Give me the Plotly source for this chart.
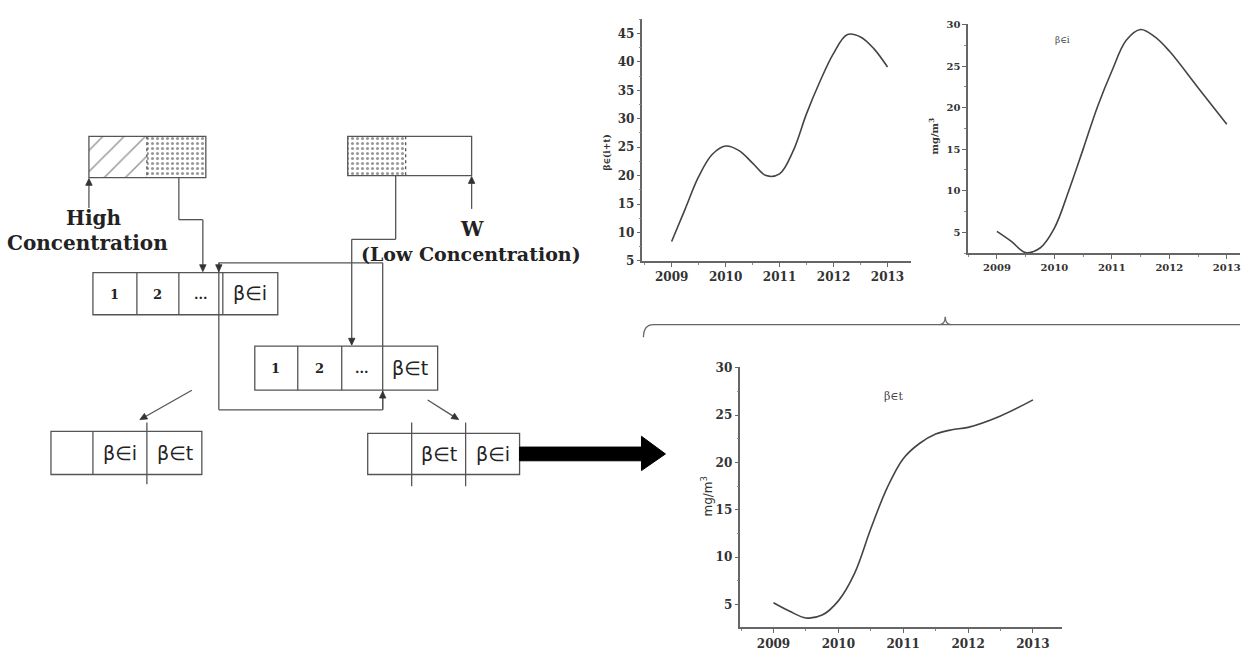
import math
import plotly.graph_objects as go

W, H = 1241, 655

# ---------------- chart data ----------------
years_it = [2009, 2009.25, 2009.5, 2009.75, 2010, 2010.25, 2010.5, 2010.75, 2011, 2011.25,
            2011.5, 2011.75, 2012, 2012.25, 2012.5, 2012.75, 2013]
beta_it = [8.4, 14.1, 19.8, 23.7, 25.2, 24.4, 22.2, 20.0, 20.3, 24.3,
           30.9, 36.6, 41.5, 44.8, 44.4, 42.3, 39.1]

years_i = [2009, 2009.25, 2009.5, 2009.75, 2010, 2010.25, 2010.5, 2010.75, 2011, 2011.25,
           2011.5, 2011.75, 2012, 2012.5, 2013]
beta_i = [5.1, 3.9, 2.55, 3.1, 5.5, 10.0, 15.0, 20.1, 24.4, 28.1,
          29.4, 28.5, 26.8, 22.4, 18.0]

years_t = [2009, 2009.25, 2009.5, 2009.75, 2010, 2010.25, 2010.5, 2010.75, 2011, 2011.25,
           2011.5, 2011.75, 2012, 2012.5, 2013]
beta_t = [5.2, 4.3, 3.6, 3.9, 5.4, 8.3, 13.0, 17.3, 20.4, 22.0,
          23.0, 23.45, 23.7, 24.9, 26.6]

year_ticks = [2009, 2010, 2011, 2012, 2013]
year_labels = ["2009", "2010", "2011", "2012", "2013"]
ticks_it = [5, 10, 15, 20, 25, 30, 35, 40, 45]
ticks_mg = [5, 10, 15, 20, 25, 30]

# diagram labels
cells_top = ["1", "2", "..."]
label_i = "β∈i"
label_t = "β∈t"

LC = "#555555"
CC = "#444444"
TXT = "#222222"

fig = go.Figure()


def dom(p0, p1, total, flip=False):
    if flip:
        return [1 - p1 / total, 1 - p0 / total]
    return [p0 / total, p1 / total]


# ---------------- charts ----------------
for xs, ys, xa, ya in ((years_it, beta_it, "x", "y"), (years_i, beta_i, "x2", "y2"),
                       (years_t, beta_t, "x3", "y3")):
    fig.add_trace(go.Scatter(x=xs, y=ys, mode="lines",
                             line=dict(color=CC, width=1.6, shape="spline", smoothing=1),
                             xaxis=xa, yaxis=ya, showlegend=False, hoverinfo="skip"))

tickfont = dict(family="DejaVu Serif", size=11, color="#333333", weight="bold")


def xax(domain, rng, anchor, fs=11):
    return dict(domain=domain, range=rng, anchor=anchor, showline=True, linecolor="#666666",
                linewidth=1.5, ticks="outside", ticklen=4, tickcolor="#666666", tickwidth=1,
                tickvals=year_ticks, ticktext=year_labels, showgrid=False, zeroline=False,
                tickfont=dict(tickfont, size=fs), fixedrange=True, ticklabeloverflow="allow",
                minor=dict(ticks="outside", ticklen=2, dtick=0.5, tick0=2009, tickcolor="#888888"))


def yax(domain, rng, anchor, vals, fs=11):
    return dict(domain=domain, range=rng, anchor=anchor, showline=True, linecolor="#666666",
                linewidth=1.5, ticks="outside", ticklen=4, tickcolor="#666666", tickwidth=1,
                tickvals=vals, ticktext=[str(v) for v in vals], showgrid=False, zeroline=False,
                tickfont=dict(tickfont, size=fs), fixedrange=True, ticklabeloverflow="allow",
                minor=dict(ticks="outside", ticklen=2, dtick=2.5, tick0=0, tickcolor="#888888"))


layout_axes = dict(
    xaxis=xax(dom(643, 912, W), [2008.46, 2013.44], "y", 12),
    yaxis=yax(dom(13, 260, H, True), [5, 47.6], "x", ticks_it, 12),
    xaxis2=xax(dom(969, 1241, W), [2008.5, 2013.23], "y2", 10),
    yaxis2=yax(dom(18, 252, H, True), [2.5, 30.1], "x2", ticks_mg, 10),
    xaxis3=xax(dom(741, 1063, W), [2008.49, 2013.45], "y3", 12),
    yaxis3=yax(dom(368, 634, H, True), [2.6, 30.1], "x3", ticks_mg, 12),
    xaxis4=dict(domain=[0, 1], range=[0, W], visible=False, fixedrange=True, anchor="y4"),
    yaxis4=dict(domain=[0, 1], range=[H, 0], visible=False, fixedrange=True, anchor="x4"),
)

shapes = []
annos = []


def line(x0, y0, x1, y1, dash=None, color=LC, width=1.3):
    shapes.append(dict(type="line", xref="x4", yref="y4", x0=x0, y0=y0, x1=x1, y1=y1,
                       line=dict(color=color, width=width, dash=dash)))


def poly(points):
    for (a, b), (c, d) in zip(points[:-1], points[1:]):
        line(a, b, c, d)


def rect(x0, y0, x1, y1):
    shapes.append(dict(type="rect", xref="x4", yref="y4", x0=x0, y0=y0, x1=x1, y1=y1,
                       line=dict(color=LC, width=1.3), fillcolor="rgba(0,0,0,0)"))


def arrow(tx, ty, sx, sy, hl=7, hw=3.2):
    dx, dy = tx - sx, ty - sy
    n = math.hypot(dx, dy)
    ux, uy = dx / n, dy / n
    bx, by = tx - ux * hl, ty - uy * hl
    line(sx, sy, bx, by)
    px, py = -uy * hw, ux * hw
    shapes.append(dict(type="path", xref="x4", yref="y4",
                       path=f"M {tx:.1f} {ty:.1f} L {bx + px:.1f} {by + py:.1f} "
                            f"L {bx - px:.1f} {by - py:.1f} Z",
                       fillcolor="#333333", line=dict(color="#333333", width=0.8)))


def text(x, y, s, size=13, family="DejaVu Serif", bold=True, color=TXT, angle=0):
    annos.append(dict(x=x, y=y, xref="x4", yref="y4", text=(f"<b>{s}</b>" if bold else s),
                      showarrow=False, textangle=angle,
                      font=dict(family=family, size=size, color=color)))


def pattern_cell(x0, y0, x1, y1, shape, size, solidity):
    fig.add_trace(go.Scatter(x=[x0, x1, x1, x0, x0], y=[y0, y0, y1, y1, y0], mode="lines",
                             fill="toself", fillcolor="white", line=dict(width=0),
                             fillpattern=dict(shape=shape, size=size, solidity=solidity,
                                              fgcolor="#333333", bgcolor="white"),
                             xaxis="x4", yaxis="y4", showlegend=False, hoverinfo="skip"))


# ---------------- top boxes ----------------
pattern_cell(89, 133, 147, 175, "/", 15, 0.1)
pattern_cell(147, 133, 206, 175, ".", 5, 0.3)
rect(89, 133, 206, 175)
line(147, 133, 147, 175, dash="dot")

pattern_cell(348, 133, 406, 173, ".", 5, 0.3)
rect(348, 133, 472, 173)
line(406, 133, 406, 173, dash="dot")

arrow(89, 176, 89, 206)
arrow(472, 174, 472, 207)

text(94, 216, "High", size=20)
text(88, 242, "Concentration", size=20)
text(472, 228, "W", size=20)
text(471, 253, "(Low Concentration)", size=19)

# connectors
poly([(179, 175), (179, 218), (203, 218)])
arrow(203, 271, 203, 218)
poly([(396, 173), (396, 238), (352, 238)])
arrow(352, 346, 352, 238)

# loop
poly([(219, 262), (383, 262), (383, 412), (219, 412), (219, 262)])
arrow(219, 271, 219, 262)
arrow(383, 393, 383, 412)

# box B
rect(93, 272, 278, 315)
for xd in (137, 179, 223):
    line(xd, 272, xd, 315)
for cx, s in zip((115, 158, 201), cells_top):
    text(cx, 294, s, size=13)
text(250, 293, label_i, size=19, family="DejaVu Sans", bold=False)

# box C
rect(255, 347, 438, 392)
for xd in (298, 342):
    line(xd, 347, xd, 392)
for cx, s in zip((276, 320, 362), cells_top):
    text(cx, 370, s, size=13)
text(410, 369, label_t, size=19, family="DejaVu Sans", bold=False)

# diagonal arrows
arrow(140, 422, 192, 392)
arrow(459, 422, 428, 402)

# box E
rect(51, 434, 202, 478)
line(93, 434, 93, 478)
line(147, 425, 147, 488)
text(120, 456, label_i, size=19, family="DejaVu Sans", bold=False)
text(175, 456, label_t, size=19, family="DejaVu Sans", bold=False)

# box F
rect(368, 436, 520, 478)
line(412, 425, 412, 490)
line(466, 425, 466, 490)
text(439, 457, label_t, size=19, family="DejaVu Sans", bold=False)
text(493, 457, label_i, size=19, family="DejaVu Sans", bold=False)

# thick arrow
shapes.append(dict(type="path", xref="x4", yref="y4",
                   path="M 520 450 L 642 450 L 642 439 L 666 457 L 642 474 L 642 464 L 520 464 Z",
                   fillcolor="black", line=dict(color="black", width=1)))

# brace
shapes.append(dict(type="path", xref="x4", yref="y4",
                   path="M 644 338 Q 644 325 654 325 L 1241 325",
                   line=dict(color="#666666", width=1.3)))
shapes.append(dict(type="path", xref="x4", yref="y4",
                   path="M 940 325 Q 946 325 946 317 Q 946 325 952 325",
                   line=dict(color="#666666", width=1.3)))

# chart labels
text(608, 150, "β∈(i+t)", size=9, family="DejaVu Serif", bold=True, color="#333333", angle=-90)
text(934, 133, "mg/m<sup>3</sup>", size=10, family="DejaVu Serif", bold=True, color="#333333", angle=-90)
text(1063, 35, "β∈i", size=9, family="DejaVu Serif", bold=False, color="#444444")
text(708, 500, "mg/m<sup>3</sup>", size=12, family="DejaVu Sans", bold=False, color="#333333", angle=-90)
text(895, 398, "β∈t", size=11, family="DejaVu Serif", bold=False, color="#444444")

fig.update_layout(
    width=W, height=H, margin=dict(l=0, r=0, t=0, b=0),
    paper_bgcolor="white", plot_bgcolor="rgba(0,0,0,0)",
    shapes=shapes, annotations=annos, showlegend=False, **layout_axes,
)

fig.write_html("out.html", config={"displayModeBar": False},
               post_script="document.body.style.margin='0px';")
